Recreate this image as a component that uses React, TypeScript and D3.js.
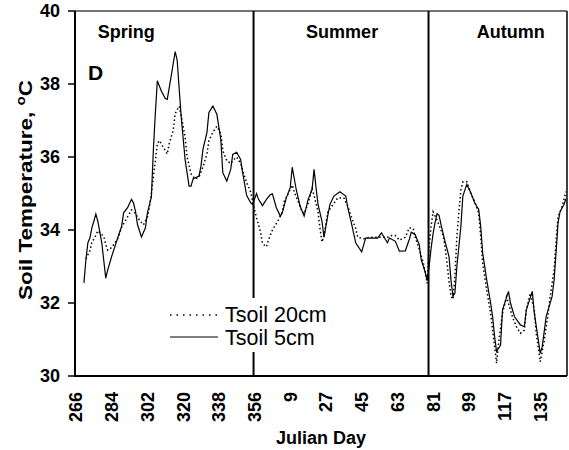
import React from "react";
import * as d3 from "d3";

// Day offsets (days after Julian day 266) and values
const days5 = [4,5,6,7,8,9,10,11,13,15,16,18,21,23,24,26,28,29,30,31,33,35,36,38,39,40,41,43,45,46,48,50,51,53,55,57,58,59,62,63,64,66,67,69,71,73,74,76,78,79,81,83,84,86,88,89,91,92,94,96,98,99,101,103,104,106,108,109,111,113,115,117,119,120,121,122,124,125,127,128,130,133,136,137,139,141,144,146,148,152,154,155,157,158,161,163,166,168,169,171,173,174,176,177,178,179,180,181,182,183,184,186,188,189,190,191,192,194,195,197,199,201,203,204,205,207,209,210,211,212,214,215,218,219,221,224,226,227,230,231,233,234,235,237,240,241,242,243,244,246,247];
const tsoil5 = [32.55,33.19,33.65,33.78,34.06,34.24,34.44,34.24,33.65,32.68,32.91,33.28,33.78,34.10,34.47,34.61,34.84,34.74,34.51,34.15,33.81,34.06,34.47,34.90,36.2,37.2,38.09,37.81,37.60,37.58,38.22,38.89,38.65,37.12,35.93,35.20,35.20,35.40,35.48,35.75,36.21,36.67,37.22,37.40,37.17,36.48,35.57,35.34,35.66,36.07,36.13,35.93,35.57,34.95,34.75,34.70,35.0,34.84,34.67,34.84,34.97,34.99,34.61,34.38,34.47,34.88,35.16,35.72,35.11,34.65,34.38,34.84,35.11,35.66,35.16,34.70,34.24,33.80,34.42,34.70,34.93,35.05,34.93,34.61,34.15,33.65,33.40,33.78,33.78,33.78,33.92,33.83,33.65,33.78,33.69,33.42,33.43,33.74,33.94,33.87,33.60,33.19,32.85,32.62,33.0,33.5,33.9,34.2,34.45,34.4,34.15,33.69,33.28,32.64,32.18,32.27,33.00,34.10,34.93,35.25,35.02,34.74,34.56,34.10,33.37,32.64,32.00,31.63,31.08,30.67,30.85,31.81,32.32,32.00,31.63,31.40,31.35,31.81,32.32,31.73,31.00,30.62,30.80,31.63,32.18,32.63,33.4,34.2,34.5,34.7,34.86];

const days20 = [5,7,8,10,11,14,15,16,18,21,23,26,28,30,32,34,36,37,38,40,41,42,44,46,47,49,50,52,53,55,56,58,60,62,64,66,67,69,71,73,74,76,78,79,81,83,84,86,88,89,91,93,94,96,97,99,102,104,105,107,109,110,112,114,115,117,119,120,122,123,124,125,127,130,132,135,137,139,141,142,145,148,152,154,157,159,161,163,166,168,170,171,173,175,176,177,178,179,180,182,185,186,187,188,189,190,191,192,193,194,195,197,199,201,203,204,205,207,209,210,212,213,215,217,218,220,222,224,226,227,229,231,232,234,236,238,239,241,242,243,245,247];
const tsoil20 = [33.21,33.43,33.66,33.85,33.98,33.82,33.6,33.45,33.52,33.76,34.08,34.36,34.55,34.45,34.27,34.14,34.36,34.63,35.0,35.9,36.37,36.45,36.27,36.08,36.37,36.73,37.19,37.39,37.14,36.55,36.00,35.54,35.40,35.45,35.73,36.08,36.45,36.68,36.84,36.64,36.18,35.90,35.82,35.90,36.00,35.82,35.63,35.31,35.04,34.8,34.33,33.95,33.63,33.54,33.72,34.00,34.27,34.50,34.78,35.0,35.23,35.04,34.78,34.50,34.45,34.73,35.13,34.95,34.50,34.04,33.67,33.85,34.50,34.73,34.88,34.88,34.65,34.33,34.04,33.80,33.76,33.80,33.80,33.80,33.80,33.85,33.85,33.72,33.80,34.06,34.04,33.80,33.48,33.12,32.85,32.54,33.55,34.10,34.50,34.27,33.86,33.55,33.1,32.6,32.2,32.1,32.72,33.82,34.5,35.09,35.32,35.32,35.0,34.78,34.46,33.82,33.09,32.36,31.72,31.26,30.35,30.90,31.72,32.17,31.99,31.62,31.35,31.17,31.26,31.81,32.27,31.81,31.17,30.39,30.96,31.72,32.17,32.9,33.7,34.36,34.64,35.05];

const tickOffsets = [0,18,36,54,72,90,108,126,144,162,180,198,216,234];
const tickLabels = ["266","284","302","320","338","356","9","27","45","63","81","99","117","135"];
const yTicks = [30,32,34,36,38,40];
const seasonBreaks = [89.5, 177.7];
const seasons = ["Spring","Summer","Autumn"];
const seasonStart = [11, 116, 202];

const W = 569, H = 450;
const L = 75, R = 567, T = 11, B = 376;
const font = "'Liberation Sans', Arial, sans-serif";

export default function App() {
  const x = d3.scaleLinear().domain([-0.5, 247.5]).range([L, R]);
  const y = d3.scaleLinear().domain([30, 40]).range([B, T]);
  const line = d3.line<[number, number]>().x(d => x(d[0])).y(d => y(d[1]));
  const s5 = days5.map((d, i) => [d, tsoil5[i]] as [number, number]);
  const s20 = days20.map((d, i) => [d, tsoil20[i]] as [number, number]);

  return (
    <svg width={W} height={H} style={{ position: "absolute", left: 0, top: 0, background: "#fff" }} fontFamily={font}>
      <rect x={0} y={0} width={W} height={H} fill="#fff" />
      {/* frame */}
      <line x1={L} x2={R} y1={T} y2={T} stroke="#444" strokeWidth={1.5} />
      <line x1={R} x2={R} y1={T} y2={B} stroke="#000" strokeWidth={1.5} />
      {/* data */}
      <path d={line(s20) || ""} fill="none" stroke="#000" strokeWidth={1.5} strokeDasharray="1.5,2.5" />
      <path d={line(s5) || ""} fill="none" stroke="#000" strokeWidth={1.2} />
      {/* season dividers */}
      {seasonBreaks.map((s, i) => (
        <line key={i} x1={x(s)} x2={x(s)} y1={T} y2={B} stroke="#000" strokeWidth={2} />
      ))}
      {/* legend */}
      <rect x={165} y={298} width={175} height={54} fill="#fff" />
      <line x1={170} x2={217} y1={315} y2={315} stroke="#000" strokeWidth={1.5} strokeDasharray="1.5,5" />
      <line x1={170} x2={218} y1={337} y2={337} stroke="#000" strokeWidth={1.2} />
      <text x={225} y={322} fontSize={21.5} fill="#000">Tsoil 20cm</text>
      <text x={225} y={345} fontSize={21.5} fill="#000">Tsoil 5cm</text>
      {/* axes */}
      <line x1={L} x2={L} y1={T} y2={B} stroke="#000" strokeWidth={2} />
      <line x1={L - 1} x2={R} y1={B} y2={B} stroke="#000" strokeWidth={2} />
      {yTicks.map(v => (
        <g key={v}>
          <line x1={68} x2={L} y1={y(v)} y2={y(v)} stroke="#000" strokeWidth={1.5} />
          <text x={60} y={y(v)} dy="0.36em" textAnchor="end" fontSize={18} fontWeight="bold">{v}</text>
        </g>
      ))}
      {tickOffsets.map((o, i) => (
        <text key={o} transform={`translate(${x(o)},392) rotate(-90)`} dy="0.36em" textAnchor="end" fontSize={18} fontWeight="bold">{tickLabels[i]}</text>
      ))}
      <text x={(L + R) / 2} y={444} textAnchor="middle" fontSize={18} fontWeight="bold">Julian Day</text>
      <text transform={`translate(32,190) rotate(-90) scale(1.25,1)`} textAnchor="middle" fontSize={18} fontWeight="bold">
        Soil Temperature, <tspan fontSize={12} dy="-7">o</tspan><tspan dy="7">C</tspan>
      </text>
      {/* labels */}
      {seasons.map((s, i) => (
        <text key={s} x={x(seasonStart[i])} y={38} fontSize={18} fontWeight="bold">{s}</text>
      ))}
      <text x={88} y={80} fontSize={21} fontWeight="bold">D</text>
    </svg>
  );
}
